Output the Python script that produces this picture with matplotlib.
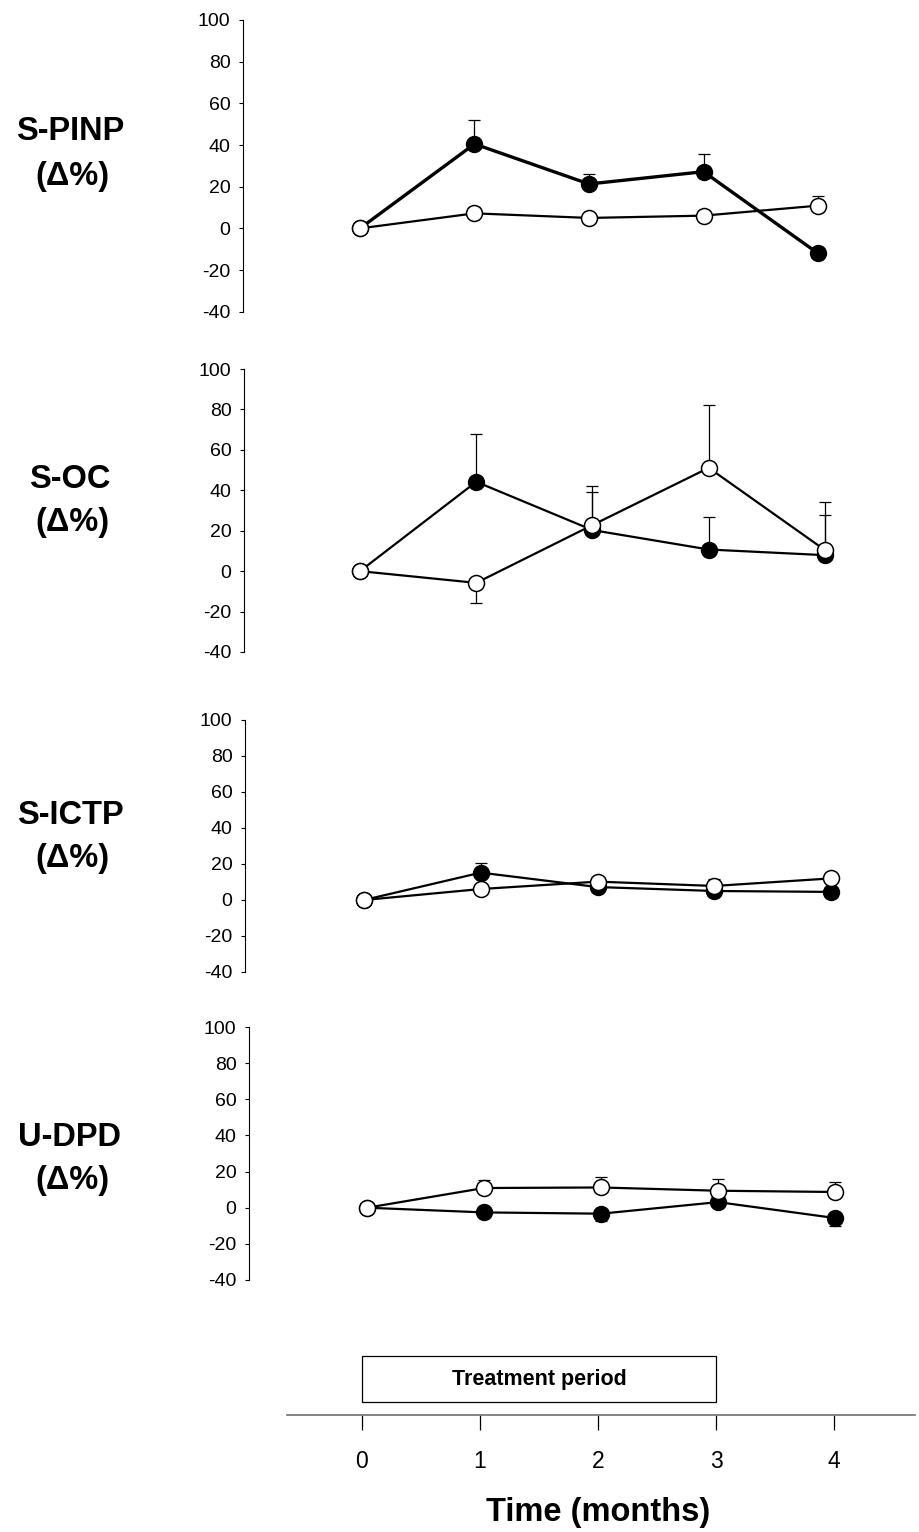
import numpy as np
import matplotlib
matplotlib.use("Agg")
import matplotlib.pyplot as plt
from matplotlib.patches import Rectangle

plt.rcParams['font.family'] = ['Liberation Sans', 'DejaVu Sans']
plt.rcParams['axes.unicode_minus'] = False

# data (% change from baseline)
months = np.array([0, 1, 2, 3, 4])
labels = ["S-PINP", "S-OC", "S-ICTP", "U-DPD"]

# filled circles; error: positive = bar up, negative = bar down
pinp_filled = [0, 40.5, 21.3, 27.2, -12.0]
pinp_filled_err = [0, 11.7, 4.8, 8.5, 0]
pinp_open = [0, 7.2, 5.0, 6.1, 10.9]
pinp_open_err = [0, 3.0, 0, 2.5, 4.8]

oc_filled = [0, 44.2, 20.3, 10.7, 7.9]
oc_filled_err = [0, 23.5, 19.0, 16.2, 19.8]
oc_open = [0, -5.8, 22.8, 51.1, 10.4]
oc_open_err = [0, -9.9, 19.4, 31.0, 24.0]

ictp_filled = [0, 15.2, 7.2, 5.0, 4.5]
ictp_filled_err = [0, 5.4, 0, 0, 0]
ictp_open = [0, 6.1, 10.2, 7.8, 12.0]
ictp_open_err = [0, 0, 2.0, 3.7, 2.0]

dpd_filled = [0, -2.6, -3.3, 3.1, -5.7]
dpd_filled_err = [0, -2.0, -4.2, 2.0, -4.2]
dpd_open = [0, 10.9, 11.2, 9.4, 8.7]
dpd_open_err = [0, 4.7, 5.7, 6.6, 5.5]

filled = [pinp_filled, oc_filled, ictp_filled, dpd_filled]
filled_err = [pinp_filled_err, oc_filled_err, ictp_filled_err, dpd_filled_err]
opened = [pinp_open, oc_open, ictp_open, dpd_open]
opened_err = [pinp_open_err, oc_open_err, ictp_open_err, dpd_open_err]

yticks = [-40, -20, 0, 20, 40, 60, 80, 100]
xticks = [0, 1, 2, 3, 4]

W, H = 920, 1532
fig = plt.figure(figsize=(W / 100, H / 100), dpi=100)

# panel boxes in pixels: left, top, bottom, x of month 0, x of month 4, label y
panels = [
    (243, 20, 311.7, 360, 818, 132, 177),
    (244, 369, 652, 360, 825, 480, 523),
    (245, 720, 972, 364, 831, 815, 858),
    (249, 1027, 1280, 367, 835, 1138, 1181),
]
right_px = 915


def signed_err(e):
    e = np.array(e, dtype=float)
    return np.vstack([np.where(e < 0, -e, 0), np.where(e > 0, e, 0)])


for i, (lft, top, bot, x0, x4, ly1, ly2) in enumerate(panels):
    ax = fig.add_axes([lft / W, 1 - bot / H, (right_px - lft) / W, (bot - top) / H])
    s = (x4 - x0) / 4
    ax.set_xlim((lft - x0) / s, (right_px - x0) / s)
    ax.set_ylim(-40, 100)
    for sp in ['top', 'right', 'bottom']:
        ax.spines[sp].set_visible(False)
    ax.spines['left'].set_linewidth(0.8)
    ax.set_xticks([])
    ax.set_yticks(yticks)
    ax.tick_params(axis='y', direction='out', length=3, width=0.8, pad=6,
                   labelsize=14)

    lw_f = 2.4 if i == 0 else 1.6
    ax.errorbar(months, filled[i], yerr=signed_err(filled_err[i]), fmt='none',
                ecolor='black', elinewidth=0.9, capsize=4.5, capthick=0.9, zorder=1)
    ax.errorbar(months, opened[i], yerr=signed_err(opened_err[i]), fmt='none',
                ecolor='black', elinewidth=0.9, capsize=4.5, capthick=0.9, zorder=1)
    ax.plot(months, filled[i], color='black', lw=lw_f, marker='o', markersize=11.5,
            markerfacecolor='black', markeredgecolor='black', zorder=3)
    ax.plot(months, opened[i], color='black', lw=1.6, marker='o', markersize=11.5,
            markerfacecolor='white', markeredgecolor='black', markeredgewidth=1.1,
            zorder=4)

    fig.text(70 / W, 1 - ly1 / H, labels[i], ha='center', va='center',
             fontsize=23.5, fontweight='bold')
    fig.text(72 / W, 1 - ly2 / H, "(\u0394%)", ha='center', va='center',
             fontsize=23.5, fontweight='bold')

# bottom time axis with treatment box
bl, bt, bb = 287, 1345, 1415
axb = fig.add_axes([bl / W, 1 - bb / H, (right_px - bl) / W, (bb - bt) / H])
x0b, sb = 362, 118
axb.set_xlim((bl - x0b) / sb, (right_px - x0b) / sb)
axb.set_ylim(0, 1)
for sp in ['top', 'right', 'left']:
    axb.spines[sp].set_visible(False)
axb.spines['bottom'].set_color('#707070')
axb.spines['bottom'].set_linewidth(1.2)
axb.set_yticks([])
axb.set_xticks(xticks)
axb.tick_params(axis='x', direction='out', length=11, width=0.9, color='black',
                pad=14, labelsize=16.5)
box_y0 = (bb - 1402) / (bb - bt)
box_y1 = (bb - 1356) / (bb - bt)
axb.add_patch(Rectangle((0, box_y0), 3.0, box_y1 - box_y0, facecolor='white',
                        edgecolor='black', lw=0.9))
axb.text(1.5, (box_y0 + box_y1) / 2, "Treatment period", ha='center', va='center',
         fontsize=15.5, fontweight='bold')

fig.text(598 / W, 1 - 1512 / H, "Time (months)", ha='center', va='center',
         fontsize=23.5, fontweight='bold')

fig.savefig("out.png", dpi=100)
